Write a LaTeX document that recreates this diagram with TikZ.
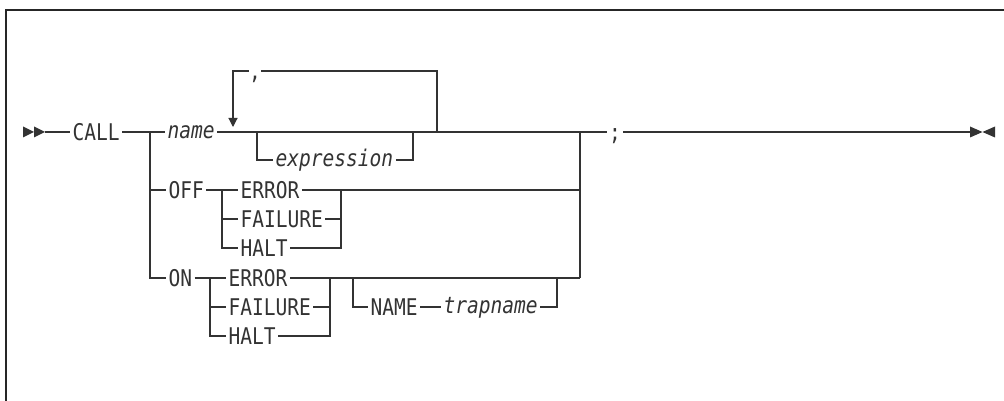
\documentclass[tikz,border=0pt]{standalone}
\usepackage{fontspec}
\newfontfamily\railfont[FakeStretch=0.85]{DejaVu Sans Mono}
\usetikzlibrary{arrows.meta}

\tikzset{
  kw/.style={anchor=west,inner xsep=2pt,inner ysep=0pt,text height=16.8pt,text depth=0pt,
    font=\railfont\fontsize{23}{27}\selectfont},
  var/.style={kw,text height=12.5pt,font=\railfont\itshape\fontsize{23}{27}\selectfont},
  down/.style={-{Triangle[width=9pt,length=9pt]}}
}

\begin{document}
\begin{tikzpicture}[x=1pt,y=-1pt,line width=1.1pt,color=black!80]
      \useasboundingbox (0,0) rectangle (1004,401);
      \draw[line width=1.8pt,black!85] (6,401) -- (6,10) -- (1004,10);

      \node[kw] (call) at (70,132) {CALL};
      \node[var] (name) at (165,132) {name};
      \node[kw,inner xsep=0pt,anchor=center] (comma) at (255,71) {,};
      \node[var] (expr) at (273,160) {expression};
      \node[kw,anchor=center] (semi) at (615,132) {;};

      \node[kw] (off) at (166,190) {OFF};
      \node[kw] (oerr) at (238,190) {ERROR};
      \node[kw] (ofail) at (238,219) {FAILURE};
      \node[kw] (ohalt) at (238,248) {HALT};

      \node[kw] (on) at (166,278) {ON};
      \node[kw] (nerr) at (226,278) {ERROR};
      \node[kw] (nfail) at (226,307) {FAILURE};
      \node[kw] (nhalt) at (226,336) {HALT};
      \node[kw] (kname) at (368,307) {NAME};
      \node[var] (trap) at (441,307) {trapname};

      \coordinate (s) at (45,132);
      \coordinate (b1) at (150,132);
      \coordinate (mr) at (580,132);
      \coordinate (lp) at (437,132);
      \coordinate (ob) at (222,190);
      \coordinate (om) at (341,190);
      \coordinate (nb) at (210,278);
      \coordinate (nm) at (330,278);
      \coordinate (e) at (970,132);

      \fill (23,126.5) -- (34,132) -- (23,137.5) -- cycle;
      \fill (34,126.5) -- (45,132) -- (34,137.5) -- cycle;
      \fill (970,126.5) -- (982.5,132) -- (970,137.5) -- cycle;
      \fill (995,126.5) -- (982.5,132) -- (995,137.5) -- cycle;

      \draw (s) -- (call.west);
      \draw (call.east) -- (name.west);
      \draw (name.east) -- (semi.west);
      \draw (semi.east) -- (e);

      \draw (lp) |- (comma.east);
      \draw[down] (comma.west) -| (233,127);
      \draw (257,132) |- (expr.west);
      \draw (expr.east) -| (413,132);

      \draw (b1 |- off) -- (off.west);
      \draw (b1) |- (on.west);
      \draw (mr) -- (mr |- on);

      \draw (off.east) -- (oerr.west);
      \draw (ob) |- (ohalt.west);
      \draw (ob |- ofail) -- (ofail.west);
      \draw (oerr.east) -- (mr |- oerr);
      \draw (ofail.east) -- (om |- ofail);
      \draw (ohalt.east) -| (om);

      \draw (on.east) -- (nerr.west);
      \draw (nb) |- (nhalt.west);
      \draw (nb |- nfail) -- (nfail.west);
      \draw (nerr.east) -- (mr |- nerr);
      \draw (nfail.east) -- (nm |- nfail);
      \draw (nhalt.east) -| (nm);
      \draw (353,278) |- (kname.west);
      \draw (kname.east) -- (trap.west);
      \draw (trap.east) -| (557,278);
    \end{tikzpicture}
\end{document}
